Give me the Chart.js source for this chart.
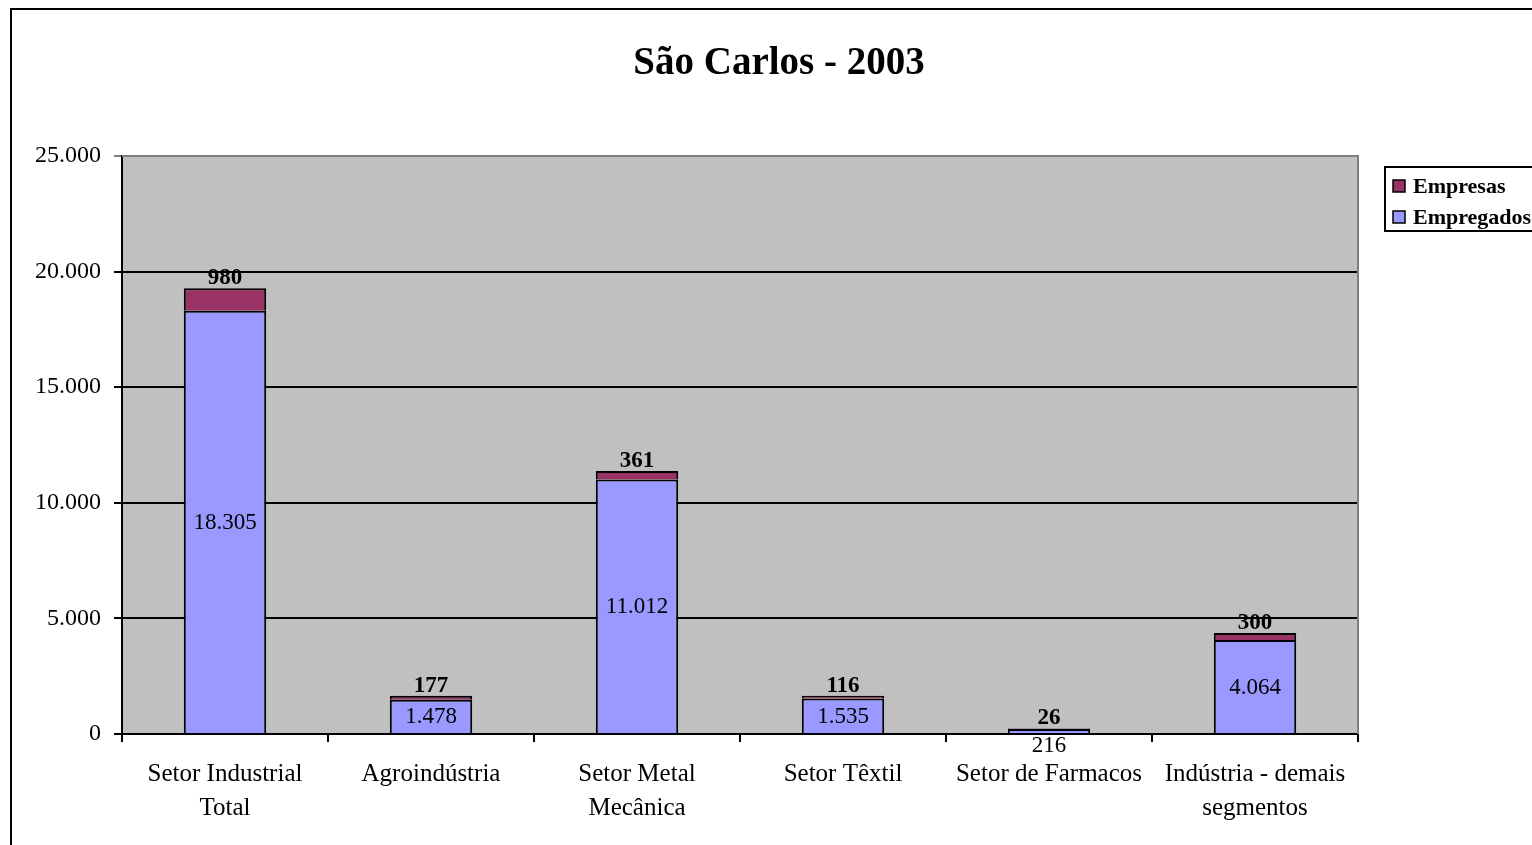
<!DOCTYPE html>
<html><head><meta charset="utf-8">
<script src="https://cdn.jsdelivr.net/npm/chart.js@4"></script>
<style>html,body{margin:0;padding:0;background:#fff;}#wrap{width:1532px;height:845px;position:relative;}</style>
</head><body><div id="wrap"><canvas id="c" width="1532" height="845"></canvas></div>
<script>
const titleText = 'São Carlos - 2003';
const categories = [['Setor Industrial','Total'], 'Agroindústria', ['Setor Metal','Mecânica'], 'Setor Têxtil', 'Setor de Farmacos', ['Indústria - demais','segmentos']];
const empregados = [18305, 1478, 11012, 1535, 216, 4064];
const empresas = [980, 177, 361, 116, 26, 300];
const yTicks = [0, 5000, 10000, 15000, 20000, 25000];
const SERIF = '"Liberation Serif","Times New Roman",serif';

function fmt(v){ return v.toString().replace(/\B(?=(\d{3})+(?!\d))/g, '.'); }

const decor = {
  id:'decor',
  beforeDraw(chart){
    const ctx = chart.ctx; const a = chart.chartArea;
    ctx.save();
    ctx.fillStyle = '#C0C0C0';
    ctx.fillRect(a.left, a.top, a.right - a.left, a.bottom - a.top);
    ctx.restore();
  },
  afterDraw(chart){
    const ctx = chart.ctx; const a = chart.chartArea;
    ctx.save();
    ctx.strokeStyle = '#808080'; ctx.lineWidth = 2;
    ctx.beginPath(); ctx.moveTo(a.left, a.top); ctx.lineTo(a.right, a.top); ctx.lineTo(a.right, a.bottom); ctx.stroke();
    ctx.strokeStyle = '#000'; ctx.lineWidth = 2;
    ctx.beginPath(); ctx.moveTo(11, 845); ctx.lineTo(11, 9); ctx.lineTo(1532, 9); ctx.stroke();
    // title
    ctx.fillStyle = '#000'; ctx.font = 'bold 39px ' + SERIF;
    ctx.textAlign = 'center'; ctx.textBaseline = 'middle';
    ctx.fillText(titleText, 779, 64);
    // legend
    ctx.lineWidth = 2; ctx.strokeStyle = '#000';
    ctx.strokeRect(1385, 167, 160, 64);
    const items = [[chart.data.datasets[1].label, chart.data.datasets[1].backgroundColor, 186],
                   [chart.data.datasets[0].label, chart.data.datasets[0].backgroundColor, 217]];
    ctx.font = 'bold 22px ' + SERIF; ctx.textAlign = 'left';
    items.forEach(([t,c,y])=>{
      ctx.fillStyle = c; ctx.fillRect(1393, y-6, 12, 12);
      ctx.strokeStyle = '#000'; ctx.lineWidth = 1.5; ctx.strokeRect(1393, y-6, 12, 12);
      ctx.fillStyle = '#000'; ctx.fillText(t, 1413, y+1);
    });
    // data labels
    const m0 = chart.getDatasetMeta(0), m1 = chart.getDatasetMeta(1);
    ctx.textAlign = 'center'; ctx.textBaseline = 'middle';
    m0.data.forEach((bar, i)=>{
      ctx.font = '23px ' + SERIF; ctx.fillStyle = '#000';
      const h = bar.base - bar.y;
      let y = (bar.y + bar.base)/2 + 1;
      if (h < 20) y = bar.base + 13;
      ctx.fillText(fmt(chart.data.datasets[0].data[i]), bar.x, y);
    });
    m1.data.forEach((bar, i)=>{
      ctx.font = 'bold 23px ' + SERIF; ctx.fillStyle = '#000';
      ctx.fillText(fmt(chart.data.datasets[1].data[i]), bar.x, bar.y - 10);
    });
    ctx.restore();
  }
};

new Chart(document.getElementById('c'), {
  type:'bar',
  data:{
    labels: categories,
    datasets:[
      {label:'Empregados', data: empregados, backgroundColor:'#9999FF', borderColor:'#000', borderWidth:2, borderSkipped:'bottom', barPercentage:0.4, categoryPercentage:1},
      {label:'Empresas', data: empresas, backgroundColor:'#993366', borderColor:'#000', borderWidth:{top:2,left:2,right:2,bottom:0}, borderSkipped:false, barPercentage:0.4, categoryPercentage:1}
    ]
  },
  options:{
    responsive:false, animation:false,
    layout:{padding:{top:156, right:174, left:0, bottom:0}},
    plugins:{legend:{display:false}, title:{display:false}, tooltip:{enabled:false}},
    scales:{
      x:{stacked:true, offset:true,
        grid:{offset:true, drawOnChartArea:false, drawTicks:true, tickLength:8, color:'#000', lineWidth:2},
        border:{color:'#000', width:2},
        ticks:{color:'#000', font:{family:SERIF, size:25, lineHeight:1.36}, maxRotation:0, autoSkip:false, padding:15},
        afterFit(s){ s.height = 845 - 734; }
      },
      y:{stacked:true, min:0, max:25000,
        afterBuildTicks(s){ s.ticks = yTicks.map(v=>({value:v})); },
        grid:{color:(c)=> c.tick && c.tick.value===25000 ? '#808080' : '#000', lineWidth:2, tickLength:8, drawTicks:true},
        border:{color:'#000', width:2},
        ticks:{color:'#000', font:{family:SERIF, size:24}, padding:13, callback:(v)=>fmt(v)},
        afterFit(s){ s.width = 122; }
      }
    }
  },
  plugins:[decor]
});
</script></body></html>
